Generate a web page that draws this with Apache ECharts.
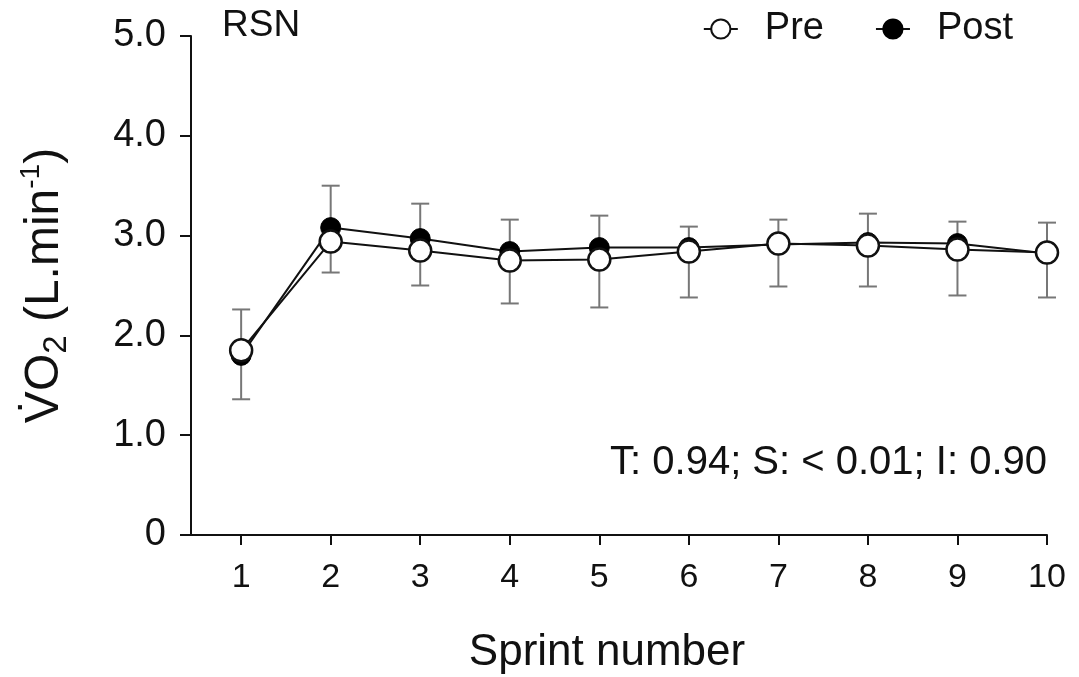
<!DOCTYPE html>
<html lang="en">
<head>
    <meta charset="UTF-8">
    <script src="https://cdn.jsdelivr.net/npm/echarts@6/dist/echarts.min.js"></script>
    <title>VO2 RSN</title>
    <style>
        html, body { margin: 0; padding: 0; background: #fff; }
        #main { width: 1079px; height: 677px; }
    </style>
</head>
<body>
<div id="main"></div>
<script>
    // sprint numbers and VO2 (L.min-1)
    var sprints = [1, 2, 3, 4, 5, 6, 7, 8, 9, 10];
    var pre = [1.85, 2.94, 2.85, 2.75, 2.76, 2.84, 2.92, 2.90, 2.86, 2.83];
    var post = [1.80, 3.08, 2.97, 2.84, 2.88, 2.88, 2.91, 2.93, 2.92, 2.82];
    var errHigh = [2.26, 3.50, 3.32, 3.16, 3.20, 3.09, 3.16, 3.22, 3.14, 3.13];
    var errLow = [1.36, 2.63, 2.50, 2.32, 2.28, 2.38, 2.49, 2.49, 2.40, 2.38];
    var yTicks = [0, 1, 2, 3, 4, 5];

    var font = 'Liberation Sans, Arial, sans-serif';

    var errData = [];
    for (var i = 0; i < sprints.length; i++) {
        errData.push([sprints[i], errLow[i], errHigh[i]]);
    }

    var myChart = echarts.init(document.getElementById('main'));
    var option = {
        animation: false,
        backgroundColor: '#fff',
        textStyle: { fontFamily: font, color: '#111' },
        grid: { left: 191, right: 32, top: 36, bottom: 142, outerBoundsMode: 'none' },
        legend: {
            right: 61, top: 5,
            itemWidth: 34, itemHeight: 24, itemGap: 51,
            textStyle: { fontSize: 38, color: '#111', padding: [0, 0, 0, 22] },
            data: ['Pre', 'Post']
        },
        xAxis: {
            type: 'value', min: 0.44, max: 10,
            name: 'Sprint number', nameLocation: 'middle', nameGap: 96,
            nameTextStyle: { fontSize: 44, color: '#111', padding: [0, 24, 0, 0] },
            axisLine: { lineStyle: { color: '#111', width: 2 } },
            axisTick: { customValues: sprints, length: 10, lineStyle: { color: '#111', width: 2 } },
            axisLabel: { customValues: sprints, fontSize: 34, color: '#111', margin: 26 },
            splitLine: { show: false }
        },
        yAxis: {
            type: 'value', min: 0, max: 5, interval: 1,
            name: '{a|V\u0307O}{sub|2}{a| (L.min}{sup|-1}{a|)}',
            nameLocation: 'middle', nameGap: 118, nameRotate: 90,
            nameTextStyle: {
                rich: {
                    a: { fontSize: 48, color: '#111', fontFamily: font, lineHeight: 56 },
                    sub: { fontSize: 33, color: '#111', fontFamily: font, verticalAlign: 'bottom', lineHeight: 56 },
                    sup: { fontSize: 28, color: '#111', fontFamily: font, verticalAlign: 'top', lineHeight: 56 }
                }
            },
            axisLine: { show: true, lineStyle: { color: '#111', width: 2 } },
            axisTick: { show: true, length: 11, lineStyle: { color: '#111', width: 2 } },
            axisLabel: {
                fontSize: 38, color: '#111', margin: 25,
                formatter: function (v) { return v === 0 ? '0' : v.toFixed(1); }
            },
            splitLine: { show: false }
        },
        graphic: [
            { type: 'text', left: 222, top: 7, style: { text: 'RSN', fontSize: 37, fill: '#111', fontFamily: font } },
            { type: 'text', right: 32, top: 443, style: { text: 'T: 0.94; S: < 0.01; I: 0.90', fontSize: 40, fill: '#111', fontFamily: font } }
        ],
        series: [
            {
                name: 'err', type: 'custom', z: 1,
                data: errData,
                renderItem: function (params, api) {
                    var x = api.value(0);
                    var lo = api.coord([x, api.value(1)]);
                    var hi = api.coord([x, api.value(2)]);
                    var w = 9;
                    var st = { stroke: '#777', lineWidth: 2 };
                    return {
                        type: 'group',
                        children: [
                            { type: 'line', shape: { x1: lo[0], y1: lo[1], x2: hi[0], y2: hi[1] }, style: st },
                            { type: 'line', shape: { x1: lo[0] - w, y1: lo[1], x2: lo[0] + w, y2: lo[1] }, style: st },
                            { type: 'line', shape: { x1: hi[0] - w, y1: hi[1], x2: hi[0] + w, y2: hi[1] }, style: st }
                        ]
                    };
                }
            },
            {
                name: 'Post', type: 'line', z: 2,
                data: sprints.map(function (s, i) { return [s, post[i]]; }),
                symbol: 'circle', symbolSize: 20,
                lineStyle: { color: '#111', width: 2 },
                itemStyle: { color: '#000', borderColor: '#000', borderWidth: 1 }
            },
            {
                name: 'Pre', type: 'line', z: 3,
                data: sprints.map(function (s, i) { return [s, pre[i]]; }),
                symbol: 'circle', symbolSize: 22,
                lineStyle: { color: '#111', width: 2 },
                itemStyle: { color: '#fff', borderColor: '#111', borderWidth: 2.5 }
            }
        ]
    };
    myChart.setOption(option);
</script>
</body>
</html>
